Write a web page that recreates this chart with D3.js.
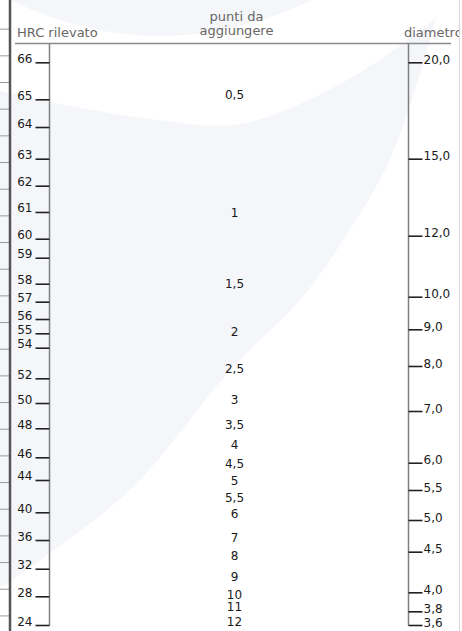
<!DOCTYPE html>
<html>
<head>
<meta charset="utf-8">
<script src="https://cdn.jsdelivr.net/npm/d3@7"></script>
<style>
  html, body { margin: 0; padding: 0; background: #ffffff; }
  svg { display: block; font-family: "DejaVu Sans", Verdana, sans-serif; }
</style>
</head>
<body>
<div id="chart"></div>
<script>
// ---- Data (nomogram graduations: value + relative position along the scale, 0 = top tick, 1 = bottom tick)
const hrcTicks = [66, 65, 64, 63, 62, 61, 60, 59, 58, 57, 56, 55, 54, 52, 50, 48, 46, 44, 40, 36, 32, 28, 24];
const hrcGrad  = [0, .0658, .115, .1713, .2193, .266, .3135, .3473, .3935, .4254, .4562, .4816, .5072, .5616, .6055, .6504, .702, .7423, .7997, .849, .900, .949, 1];

const diamTicks = [20, 15, 12, 10, 9, 8, 7, 6, 5.5, 5, 4.5, 4, 3.8, 3.6];
const diamGrad  = [0, .1713, .3082, .4166, .4745, .5397, .6197, .7116, .7601, .8134, .8697, .9419, .9757, 1];

const pointTicks = [0.5, 1, 1.5, 2, 2.5, 3, 3.5, 4, 4.5, 5, 5.5, 6, 7, 8, 9, 10, 11, 12];
const pointGrad  = [.0652, .2744, .4011, .4864, .5527, .6078, .6517, .6872, .7215, .7512, .7814, .8104, .852, .8845, .9213, .9543, .9746, 1.0018];

const leftTitle = "HRC rilevato";
const midTitle = ["punti da", "aggiungere"];
const rightTitle = "diametro";

// ---- Layout
const W = 462, H = 631;
const axisTop = 43.5, axisBottom = 625;
const leftX = 49.5, rightX = 408.5, midX = 234.5;
const bg = "#f5f6f9";

const svg = d3.select("#chart").append("svg").attr("width", W).attr("height", H);

// background watermark
svg.append("rect").attr("width", W).attr("height", H).attr("fill", "#ffffff");
svg.append("path").attr("fill", bg)
  .attr("d", "M10,0 Q160,72 312,0 Z");
const outer = [[436,18],[392,155],[340,245],[300,300],[233,367],[133,487],[50,553],[0,588]];
const inner = [[0,91],[10,93],[70,106],[150,119],[233,125],[300,104],[380,60],[436,18]];
const lineGen = d3.line().curve(d3.curveCatmullRom);
svg.append("path").attr("fill", bg)
  .attr("d", lineGen(outer) + "L" + lineGen(inner).slice(1) + "Z");

// left strip (neighbouring table)
svg.append("g").selectAll("line").data(d3.range(1, 24)).join("line")
  .attr("x1", 0).attr("x2", 9).attr("y1", d => 2.5 + 26.67 * d).attr("y2", d => 2.5 + 26.67 * d)
  .attr("stroke", "#9a9a9a").attr("stroke-width", 1);
svg.append("line").attr("x1", 10).attr("x2", 10).attr("y1", 0).attr("y2", H)
  .attr("stroke", "#555").attr("stroke-width", 2.5);
// right border
svg.append("line").attr("x1", 459.5).attr("x2", 459.5).attr("y1", 0).attr("y2", H)
  .attr("stroke", "#d8d8d8").attr("stroke-width", 1);

// header rule
svg.append("line").attr("x1", 15).attr("x2", 451).attr("y1", axisTop).attr("y2", axisTop)
  .attr("stroke", "#8a8a8a").attr("stroke-width", 1.5);

// titles
svg.append("text").attr("x", 17).attr("y", 37).attr("font-size", 13).attr("fill", "#666").text(leftTitle);
svg.append("text").attr("x", 236.5).attr("text-anchor", "middle").attr("font-size", 13).attr("fill", "#666")
  .selectAll("tspan").data(midTitle).join("tspan")
  .attr("x", 236.5).attr("y", (d, i) => 21 + i * 14).text(d => d);
svg.append("clipPath").attr("id", "clipR").append("rect").attr("x", 380).attr("y", 0).attr("width", 79).attr("height", 60);
svg.append("text").attr("x", 404).attr("y", 37).attr("font-size", 13).attr("fill", "#666")
  .attr("clip-path", "url(#clipR)").text(rightTitle);

// scales
const pos = d3.scaleLinear().domain([0, 1]).range([62.3, axisBottom]);
const yH = d3.scaleLinear().domain(hrcTicks).range(hrcGrad.map(pos));
const yD = d3.scaleLinear().domain(diamTicks).range(diamGrad.map(pos));
const yP = d3.scaleLinear().domain(pointTicks).range(pointGrad.map(pos));

const comma = f => v => d3.format(f)(v).replace(".", ",");

// axis lines
svg.append("line").attr("x1", leftX).attr("x2", leftX).attr("y1", axisTop).attr("y2", axisBottom + 0.5)
  .attr("stroke", "#808080").attr("stroke-width", 1.5);
svg.append("line").attr("x1", rightX).attr("x2", rightX).attr("y1", axisTop).attr("y2", axisBottom + 0.5)
  .attr("stroke", "#808080").attr("stroke-width", 1.5);

// left axis
const gL = svg.append("g").attr("transform", `translate(${leftX},0)`)
  .call(d3.axisLeft(yH).tickValues(hrcTicks).tickSize(14).tickPadding(3).tickFormat(d3.format("d")));
gL.select(".domain").remove();
gL.selectAll(".tick line").attr("stroke", "#222").attr("stroke-width", 1.6);
gL.selectAll(".tick text").attr("dy", "0em").attr("font-size", 12).attr("fill", "#1a1a1a")
  .attr("font-family", "DejaVu Sans, Verdana, sans-serif");

// right axis
const gR = svg.append("g").attr("transform", `translate(${rightX},0)`)
  .call(d3.axisRight(yD).tickValues(diamTicks).tickSize(14).tickPadding(1).tickFormat(comma(".1f")));
gR.select(".domain").remove();
gR.selectAll(".tick line").attr("stroke", "#222").attr("stroke-width", 1.6);
gR.selectAll(".tick text").attr("dy", "0.1em").attr("font-size", 12).attr("fill", "#1a1a1a")
  .attr("font-family", "DejaVu Sans, Verdana, sans-serif");

// middle scale (labels only)
svg.append("g").selectAll("text").data(pointTicks).join("text")
  .attr("x", midX).attr("y", d => yP(d)).attr("text-anchor", "middle")
  .attr("font-size", 12).attr("fill", "#1a1a1a")
  .text(d => comma("~g")(d));
</script>
</body>
</html>
